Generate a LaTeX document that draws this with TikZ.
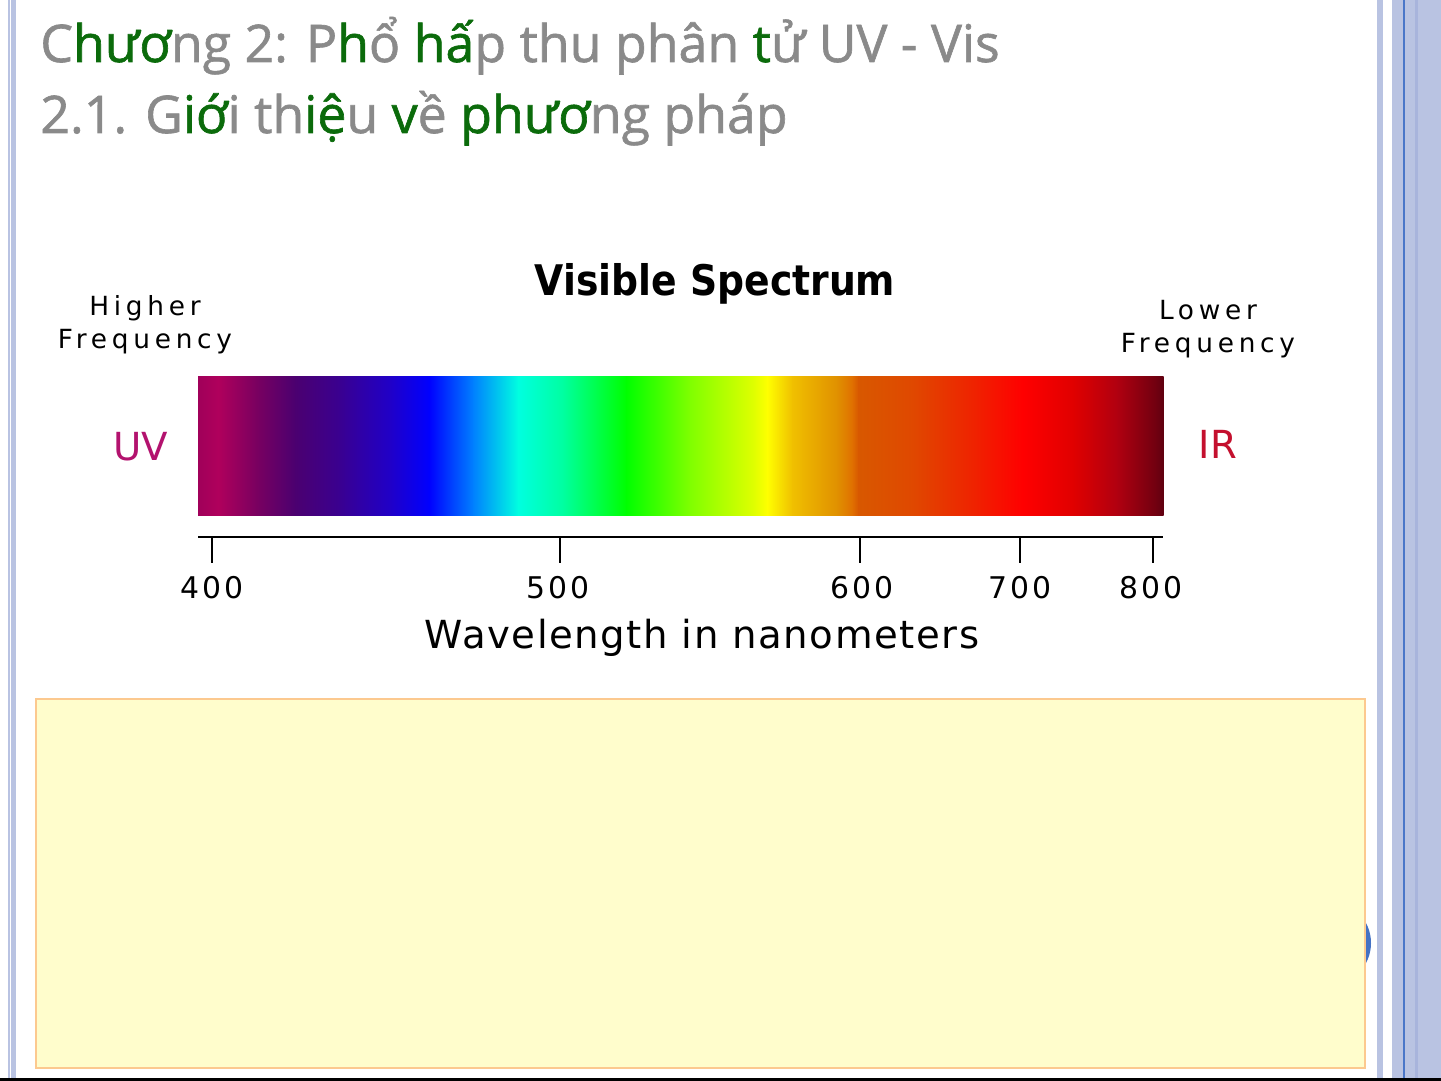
\documentclass[tikz,border=0pt]{standalone}
\usepackage{fontspec}
\setmainfont{DejaVu Sans}
\newfontfamily\titlefont[FakeBold=1.2]{Open Sans}
\newfontfamily\pixfont[LetterSpace=18]{DejaVu Sans}
\newfontfamily\numfont[LetterSpace=10]{DejaVu Sans}
\newfontfamily\axisfont[LetterSpace=4]{DejaVu Sans}
\usetikzlibrary{positioning}

\definecolor{titlegray}{HTML}{8A8A8A}
\definecolor{titlegreen}{HTML}{0B6B0B}
\definecolor{bandblue}{HTML}{B9C3E2}
\definecolor{bandmid}{HTML}{A8B4DC}
\definecolor{lineblue}{HTML}{4A76C8}
\definecolor{dotblue}{HTML}{4472C4}
\definecolor{notefill}{HTML}{FFFDCC}
\definecolor{noteedge}{HTML}{FCC98F}
\definecolor{uvcol}{HTML}{B3126E}
\definecolor{ircol}{HTML}{C4102E}

\newcommand{\gr}[1]{\textcolor{titlegreen}{#1}}

\begin{document}
\begin{tikzpicture}[x=0.02cm, y=-0.02cm,
    heading/.style={anchor=base west, inner sep=0, text=titlegray,
      font=\titlefont\fontsize{29.5}{32}\selectfont},
    freq/.style={align=center, inner sep=0, font=\pixfont\fontsize{15}{19}\selectfont},
    ticklabel/.style={inner sep=0, font=\numfont\fontsize{17}{20}\selectfont},
    tickmark/.style={line width=1.1pt},
    axisline/.style={line width=1.7pt}]
    \useasboundingbox (0,0) rectangle (1441,1081);

    % slide frame
    \fill[bandblue] (8,0) rectangle (9.5,1081);
    \fill[bandblue] (11,0) rectangle (16,1081);
    \fill[bandblue] (1377,0) rectangle (1383,1081);
    \fill[bandblue] (1392,0) rectangle (1441,1081);
    \fill[lineblue] (1403,0) rectangle (1405,1081);
    \fill[bandmid] (1415,0) rectangle (1418,1081);
    \fill[black] (0,1077.5) rectangle (1441,1080.5);

    % heading
    \node[heading] (chap) at (40,62)
      {C\gr{hươ}ng 2: P\gr{h}ổ \gr{hấ}p thu phân \gr{t}ử UV - Vis};
    \node[heading] (sect) at (40,133)
      {2.1. G\gr{iớ}i th\gr{iệ}u \gr{v}ề \gr{phươ}ng pháp};

    % spectrum bar
    \foreach \xa/\ca/\xb/\cb in {198/A0005A/218/B0005C, 218/B0005C/256/7A0060,
        256/7A0060/295/4B0070, 295/4B0070/339/3A0090, 339/3A0090/390/2000C8,
        390/2000C8/429/0000FF, 429/0000FF/473/0080FF, 473/0080FF/518/00FFE0,
        518/00FFE0/563/00FFA0, 563/00FFA0/626/00FF00, 626/00FF00/690/80FF00,
        690/80FF00/754/E0FF00, 754/E0FF00/767/FFFF00, 767/FFFF00/792/F0C000,
        792/F0C000/837/E09000, 837/E09000/852/E07000, 852/E07000/858/D85800,
        858/D85800/913/E04800, 913/E04800/977/F02000, 977/F02000/1022/FF0000,
        1022/FF0000/1073/E00000, 1073/E00000/1117/B00010, 1117/B00010/1156/700010,
        1156/700010/1163/600010}
    {
      \definecolor{cl}{HTML}{\ca}\definecolor{cr}{HTML}{\cb}
      \shade[left color=cl, right color=cr] (\xa,377) rectangle (\xb+0.6,515);
    }
    \coordinate (bar) at (680,446);

    \node[font=\bfseries\fontsize{24}{28}\selectfont, inner sep=0] (title) at (715,284)
      {\scalebox{0.895}[1]{Visible Spectrum}};
    \node[freq] (hifreq) at (145,325) {Higher\\Frequency};
    \node[freq] (lofreq) at (1208,329) {Lower\\Frequency};
    \node[text=uvcol, inner sep=0, font=\fontsize{22}{24}\selectfont] (uv) at (141,447) {UV};
    \node[text=ircol, inner sep=0, font=\fontsize{22}{24}\selectfont] (ir) at (1218,444) {IR};

    % wavelength axis
    \coordinate (axL) at (198,537);
    \coordinate (axR) at (1163,537);
    \draw[axisline] (axL) -- (axR);
    \foreach \wl/\xt/\xl in {400/212/212, 500/560/558, 600/860/862, 700/1020/1020, 800/1153/1151}
    {
      \coordinate (t\wl) at (\xt,537);
      \draw[tickmark] (t\wl) -- ++(0,26);
      \node[ticklabel] (l\wl) at (\xl,588) {\wl};
    }
    \node[inner sep=0, font=\axisfont\fontsize{22}{24}\selectfont] (wlen) at (702,638) {Wavelength in nanometers};

    % note box
    \fill[dotblue] (1328.5,943) circle (42.5);
    \draw[draw=noteedge, fill=notefill, line width=1.1pt] (36,699) rectangle (1365,1068);
\end{tikzpicture}
\end{document}
